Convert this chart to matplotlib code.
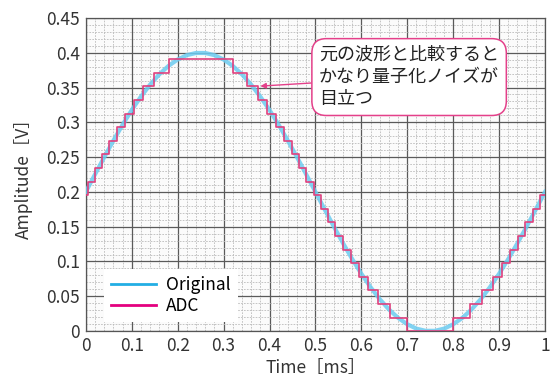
import matplotlib
matplotlib.use('Agg')
import matplotlib.pyplot as plt
import matplotlib.ticker as plticker

plt.rcParams['font.family'] = ['Noto Sans CJK JP', 'DejaVu Sans']

# original waveform, read every 0.02 ms
t_orig = [0.00, 0.02, 0.04, 0.06, 0.08, 0.10, 0.12, 0.14, 0.16, 0.18,
          0.20, 0.22, 0.24, 0.26, 0.28, 0.30, 0.32, 0.34, 0.36, 0.38,
          0.40, 0.42, 0.44, 0.46, 0.48, 0.50, 0.52, 0.54, 0.56, 0.58,
          0.60, 0.62, 0.64, 0.66, 0.68, 0.70, 0.72, 0.74, 0.76, 0.78,
          0.80, 0.82, 0.84, 0.86, 0.88, 0.90, 0.92, 0.94, 0.96, 0.98, 1.00]
v_orig = [0.2000, 0.2251, 0.2497, 0.2736, 0.2964, 0.3176, 0.3369, 0.3541, 0.3689, 0.3810,
          0.3902, 0.3965, 0.3996, 0.3996, 0.3965, 0.3902, 0.3810, 0.3689, 0.3541, 0.3369,
          0.3176, 0.2964, 0.2736, 0.2497, 0.2251, 0.2000, 0.1749, 0.1503, 0.1264, 0.1036,
          0.0824, 0.0631, 0.0459, 0.0311, 0.0190, 0.0098, 0.0035, 0.0004, 0.0004, 0.0035,
          0.0098, 0.0190, 0.0311, 0.0459, 0.0631, 0.0824, 0.1036, 0.1264, 0.1503, 0.1749, 0.2000]

# ADC staircase: time where each level starts, and the level value
t_adc = [0.0000, 0.0041, 0.0196, 0.0354, 0.0516, 0.0683, 0.0859, 0.1047, 0.1254, 0.1495,
         0.1801, 0.3199, 0.3505, 0.3746, 0.3953, 0.4142, 0.4317, 0.4484, 0.4646, 0.4804,
         0.4960, 0.5115, 0.5272, 0.5431, 0.5595, 0.5766, 0.5947, 0.6143, 0.6364, 0.6626,
         0.7001, 0.7999, 0.8374, 0.8637, 0.8857, 0.9054, 0.9234, 0.9405, 0.9569, 0.9728,
         0.9885, 1.0000]
v_adc = [0.1953, 0.2148, 0.2344, 0.2539, 0.2734, 0.2930, 0.3125, 0.3320, 0.3516, 0.3711,
         0.3906, 0.3711, 0.3516, 0.3320, 0.3125, 0.2930, 0.2734, 0.2539, 0.2344, 0.2148,
         0.1953, 0.1758, 0.1563, 0.1367, 0.1172, 0.0977, 0.0781, 0.0586, 0.0391, 0.0195,
         0.0000, 0.0195, 0.0391, 0.0586, 0.0781, 0.0977, 0.1172, 0.1367, 0.1563, 0.1758,
         0.1953, 0.1953]

x_ticks = [0, 0.1, 0.2, 0.3, 0.4, 0.5, 0.6, 0.7, 0.8, 0.9, 1]
x_labels = ['0', '0.1', '0.2', '0.3', '0.4', '0.5', '0.6', '0.7', '0.8', '0.9', '1']
y_ticks = [0, 0.05, 0.1, 0.15, 0.2, 0.25, 0.3, 0.35, 0.4, 0.45]
y_labels = ['0', '0.05', '0.1', '0.15', '0.2', '0.25', '0.3', '0.35', '0.4', '0.45']

fig = plt.figure(figsize=(5.5, 3.81), dpi=100)
ax = fig.add_axes([0.156, 0.131, 0.835, 0.822])
ax.set_facecolor('#fbfbfb')

ax.plot(t_orig, v_orig, color='#6ccbf0', lw=3.0, alpha=0.85, label='Original', zorder=3)
ax.step(t_adc, v_adc, where='post', color='#e0407e', lw=1.2, label='ADC', zorder=4)

ax.set_xlim(0, 1)
ax.set_ylim(0, 0.45)
ax.set_xticks(x_ticks, x_labels)
ax.set_yticks(y_ticks, y_labels)
ax.xaxis.set_minor_locator(plticker.MultipleLocator(0.02))
ax.yaxis.set_minor_locator(plticker.MultipleLocator(0.01))
ax.grid(which='major', color='#5a5a5a', lw=0.9)
ax.grid(which='minor', color='#bbbbbb', lw=0.6, ls=(0, (2, 1.5)))
ax.set_axisbelow(True)
ax.tick_params(which='both', length=0, labelsize=12.5, colors='#333333', pad=4)
for s in ax.spines.values():
    s.set_color('#555555')
    s.set_linewidth(0.9)

ax.set_xlabel('Time［ms］', fontsize=12.5, color='#333333', labelpad=3)
ax.set_ylabel('Amplitude［V］', fontsize=12.5, color='#333333', labelpad=10)

leg = ax.legend(loc='lower left', bbox_to_anchor=(0.02, 0.0), fontsize=12.5,
                frameon=True, fancybox=False, handlelength=2.6, borderpad=0.4,
                labelspacing=0.2, handletextpad=0.6)
leg.get_frame().set_edgecolor('none')
leg.get_frame().set_facecolor('white')
leg.get_frame().set_alpha(1)
leg.get_lines()[0].set_color('#22aee4')
leg.get_lines()[0].set_linewidth(2)
leg.get_lines()[0].set_alpha(1)
leg.get_lines()[1].set_color('#e4007f')
leg.get_lines()[1].set_linewidth(2)

ax.annotate('元の波形と比較すると\nかなり量子化ノイズが\n目立つ', xy=(0.38, 0.352), xytext=(0.508, 0.365),
            fontsize=13, color='#222222', va='center', ha='left', linespacing=1.3,
            bbox=dict(boxstyle='round,pad=0.4,rounding_size=0.8', fc='white', ec='#e4408a', lw=1.1),
            arrowprops=dict(arrowstyle='-|>', color='#e4408a', lw=1.0, mutation_scale=8,
                            shrinkA=0, shrinkB=0),
            zorder=6)

fig.savefig('out.png', dpi=100)
